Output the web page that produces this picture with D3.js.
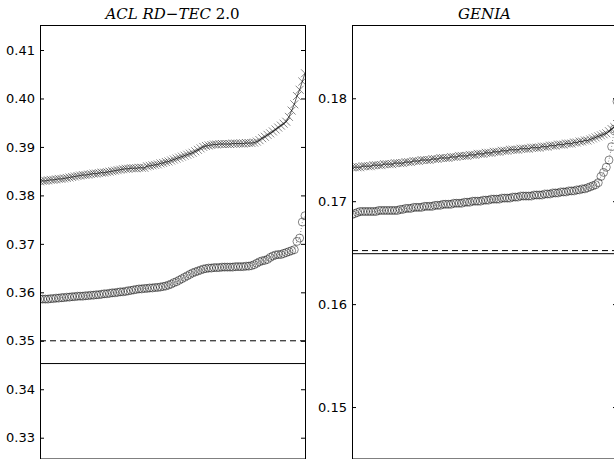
<!DOCTYPE html>
<html lang="en">
<head>
    <meta charset="UTF-8">
    <script src="https://d3js.org/d3.v7.min.js"></script>
    <title>ranking curves</title>
    <style>
        body { margin: 0; background: #fff; }
        svg { display: block; overflow: hidden; }
    </style>
</head>
<body>
    <svg width="614" height="459" id="mainsvg"></svg>
    <script>
        // ACL RD-TEC 2.0 panel
        const aclCross = [
            0.3829, 0.3830, 0.3830, 0.3831, 0.3832, 0.3832, 0.3833, 0.3834, 0.3834, 0.3835,
            0.3836, 0.3837, 0.3838, 0.3839, 0.3840, 0.3841, 0.3842, 0.3842, 0.3843, 0.3844,
            0.3845, 0.3845, 0.3846, 0.3847, 0.3847, 0.3848, 0.3849, 0.3850, 0.3851, 0.3852,
            0.3853, 0.3854, 0.3855, 0.3855, 0.3856, 0.3856, 0.3856, 0.3857, 0.3857, 0.3857,
            0.3860, 0.3861, 0.3862, 0.3863, 0.3864, 0.3866, 0.3867, 0.3869, 0.3870, 0.3872,
            0.3874, 0.3876, 0.3878, 0.3880, 0.3882, 0.3884, 0.3886, 0.3888, 0.3891, 0.3894,
            0.3897, 0.3900, 0.3902, 0.3903, 0.3904, 0.3905, 0.3905, 0.3906, 0.3906, 0.3906,
            0.3906, 0.3906, 0.3907, 0.3907, 0.3907, 0.3907, 0.3907, 0.3908, 0.3908, 0.3908,
            0.3909, 0.3911, 0.3914, 0.3918, 0.3921, 0.3925, 0.3928, 0.3932, 0.3936, 0.3940,
            0.3944, 0.3948, 0.3952, 0.3962, 0.3975, 0.3988, 0.4005, 0.4018, 0.4035, 0.4052
        ];
        const aclCircle = [
            0.3586, 0.3586, 0.3586, 0.3586, 0.3587, 0.3587, 0.3588, 0.3588, 0.3589, 0.3589,
            0.3590, 0.3590, 0.3591, 0.3591, 0.3592, 0.3592, 0.3592, 0.3593, 0.3593, 0.3594,
            0.3594, 0.3595, 0.3595, 0.3596, 0.3597, 0.3597, 0.3598, 0.3599, 0.3599, 0.3600,
            0.3601, 0.3601, 0.3602, 0.3603, 0.3604, 0.3605, 0.3606, 0.3607, 0.3607, 0.3608,
            0.3608, 0.3609, 0.3609, 0.3610, 0.3610, 0.3611, 0.3612, 0.3613, 0.3615, 0.3617,
            0.3620, 0.3622, 0.3625, 0.3628, 0.3631, 0.3634, 0.3637, 0.3640, 0.3642, 0.3644,
            0.3646, 0.3648, 0.3649, 0.3650, 0.3650, 0.3651, 0.3651, 0.3651, 0.3652, 0.3652,
            0.3652, 0.3652, 0.3652, 0.3653, 0.3653, 0.3653, 0.3653, 0.3654, 0.3654, 0.3655,
            0.3657, 0.3660, 0.3663, 0.3665, 0.3666, 0.3668, 0.3672, 0.3675, 0.3677, 0.3678,
            0.3678, 0.3680, 0.3682, 0.3684, 0.3686, 0.3688, 0.3705, 0.3712, 0.3745, 0.3758
        ];
        const aclDashed = 0.3500;
        const aclSolid = 0.3453;
        const aclTicks = [0.33, 0.34, 0.35, 0.36, 0.37, 0.38, 0.39, 0.40, 0.41];

        // GENIA panel
        const geniaCross = [
            0.1733, 0.1733, 0.1733, 0.1733, 0.1734, 0.1734, 0.1734, 0.1734, 0.1735, 0.1735,
            0.1735, 0.1735, 0.1736, 0.1736, 0.1736, 0.1736, 0.1737, 0.1737, 0.1737, 0.1737,
            0.1738, 0.1738, 0.1738, 0.1739, 0.1739, 0.1739, 0.1740, 0.1740, 0.1740, 0.1740,
            0.1741, 0.1741, 0.1741, 0.1742, 0.1742, 0.1742, 0.1742, 0.1743, 0.1743, 0.1743,
            0.1744, 0.1744, 0.1744, 0.1744, 0.1745, 0.1745, 0.1745, 0.1746, 0.1746, 0.1746,
            0.1747, 0.1747, 0.1747, 0.1748, 0.1748, 0.1748, 0.1749, 0.1749, 0.1749, 0.1750,
            0.1750, 0.1750, 0.1750, 0.1751, 0.1751, 0.1751, 0.1751, 0.1752, 0.1752, 0.1752,
            0.1752, 0.1753, 0.1753, 0.1753, 0.1754, 0.1754, 0.1754, 0.1755, 0.1755, 0.1755,
            0.1756, 0.1756, 0.1756, 0.1757, 0.1757, 0.1758, 0.1758, 0.1759, 0.1759, 0.1760,
            0.1761, 0.1762, 0.1763, 0.1764, 0.1765, 0.1766, 0.1768, 0.1770, 0.1772, 0.1775
        ];
        const geniaCircle = [
            0.1687, 0.1688, 0.1689, 0.1690, 0.1690, 0.1690, 0.1690, 0.1690, 0.1690, 0.1690,
            0.1691, 0.1691, 0.1691, 0.1691, 0.1691, 0.1691, 0.1691, 0.1691, 0.1692, 0.1692,
            0.1693, 0.1693, 0.1693, 0.1694, 0.1694, 0.1694, 0.1694, 0.1695, 0.1695, 0.1695,
            0.1695, 0.1696, 0.1696, 0.1696, 0.1697, 0.1697, 0.1697, 0.1697, 0.1698, 0.1698,
            0.1698, 0.1698, 0.1699, 0.1699, 0.1699, 0.1700, 0.1700, 0.1700, 0.1700, 0.1701,
            0.1701, 0.1701, 0.1702, 0.1702, 0.1702, 0.1702, 0.1703, 0.1703, 0.1703, 0.1703,
            0.1704, 0.1704, 0.1704, 0.1705, 0.1705, 0.1705, 0.1705, 0.1705, 0.1706, 0.1706,
            0.1706, 0.1706, 0.1707, 0.1707, 0.1707, 0.1708, 0.1708, 0.1708, 0.1709, 0.1709,
            0.1709, 0.1710, 0.1710, 0.1710, 0.1711, 0.1711, 0.1712, 0.1712, 0.1713, 0.1714,
            0.1715, 0.1716, 0.1718, 0.1724, 0.1728, 0.1733, 0.1740, 0.1753, 0.1770, 0.1797
        ];
        const geniaDashed = 0.1652;
        const geniaSolid = 0.1649;
        const geniaTicks = [0.15, 0.16, 0.17, 0.18];

        const svg = d3.select('#mainsvg');
        const axTop = 25, axBottom = 458.5;
        const panelWidth = 265;

        svg.append('rect').attr('width', 614).attr('height', 459).attr('fill', '#fff');

        const panels = [
            { id: 'acl', left: 40, yDomain: [0.32571, 0.41516], ticks: aclTicks,
              cross: aclCross, circle: aclCircle, dashed: aclDashed, solid: aclSolid,
              titleItalic: 'ACL RD\u2212TEC', titleRest: ' 2.0' },
            { id: 'genia', left: 352, yDomain: [0.145, 0.18712], ticks: geniaTicks,
              cross: geniaCross, circle: geniaCircle, dashed: geniaDashed, solid: geniaSolid,
              titleItalic: 'GENIA', titleRest: '' }
        ];

        panels.forEach(p => {
            const g = svg.append('g').attr('transform', `translate(${p.left}, 0)`);
            const n = p.cross.length;
            const xScale = d3.scaleLinear().domain([0, n - 1]).range([0, panelWidth]);
            const yScale = d3.scaleLinear().domain(p.yDomain).range([axBottom, axTop]);

            g.append('clipPath').attr('id', 'clip-' + p.id)
                .append('rect').attr('x', 0).attr('y', axTop)
                .attr('width', panelWidth).attr('height', axBottom - axTop);

            const plot = g.append('g').attr('clip-path', `url(#clip-${p.id})`);

            // reference lines
            plot.append('line')
                .attr('x1', 0).attr('x2', panelWidth)
                .attr('y1', yScale(p.dashed)).attr('y2', yScale(p.dashed))
                .attr('stroke', '#000').attr('stroke-width', 1)
                .attr('stroke-dasharray', '6,4');
            plot.append('line')
                .attr('x1', 0).attr('x2', panelWidth)
                .attr('y1', yScale(p.solid)).attr('y2', yScale(p.solid))
                .attr('stroke', '#000').attr('stroke-width', 1);

            // connecting lines
            const line = d3.line().x((d, i) => xScale(i)).y(d => yScale(d));
            plot.append('path').datum(p.cross).attr('d', line)
                .attr('fill', 'none').attr('stroke', '#000')
                .attr('stroke-width', 0.8).attr('stroke-opacity', 0.8);
            plot.append('path').datum(p.circle).attr('d', line)
                .attr('fill', 'none').attr('stroke', '#000')
                .attr('stroke-width', 0.8).attr('stroke-opacity', 0.6)
                .attr('stroke-dasharray', '1,2');

            // x markers
            plot.selectAll('.cross').data(p.cross).enter().append('path')
                .attr('class', 'cross')
                .attr('transform', (d, i) => `translate(${xScale(i)}, ${yScale(d)})`)
                .attr('d', 'M-4,-4L4,4M-4,4L4,-4')
                .attr('fill', 'none').attr('stroke', '#000')
                .attr('stroke-width', 0.8).attr('stroke-opacity', 0.6);

            // o markers
            plot.selectAll('.circ').data(p.circle).enter().append('circle')
                .attr('class', 'circ')
                .attr('cx', (d, i) => xScale(i))
                .attr('cy', d => yScale(d))
                .attr('r', 4)
                .attr('fill', 'none').attr('stroke', '#000')
                .attr('stroke-width', 0.8).attr('stroke-opacity', 0.6);

            // axes, ticks pointing inward
            const yAxis = d3.axisLeft(yScale).tickValues(p.ticks)
                .tickSize(-4).tickPadding(5).tickFormat(d3.format('.2f'));
            const ax = g.append('g').call(yAxis);
            ax.select('.domain').remove();
            ax.selectAll('.tick line').attr('stroke', '#000');
            ax.selectAll('.tick text')
                .attr('font-family', 'DejaVu Sans, sans-serif')
                .attr('font-size', 13).attr('fill', '#000');

            const yAxisR = d3.axisRight(yScale).tickValues(p.ticks)
                .tickSize(-4).tickFormat('');
            const axR = g.append('g').attr('transform', `translate(${panelWidth}, 0)`).call(yAxisR);
            axR.select('.domain').remove();
            axR.selectAll('.tick line').attr('stroke', '#000');

            // frame
            g.append('rect')
                .attr('x', 0.5).attr('y', axTop + 0.5)
                .attr('width', panelWidth).attr('height', axBottom - axTop)
                .attr('fill', 'none').attr('stroke', '#000').attr('stroke-width', 1);

            // title
            const title = g.append('text')
                .attr('x', panelWidth / 2).attr('y', 19)
                .attr('text-anchor', 'middle')
                .attr('font-family', 'DejaVu Serif, serif')
                .attr('font-size', 15).attr('fill', '#000');
            title.append('tspan').attr('font-style', 'italic').text(p.titleItalic);
            if (p.titleRest) title.append('tspan').text(p.titleRest);
        });
    </script>
</body>
</html>
